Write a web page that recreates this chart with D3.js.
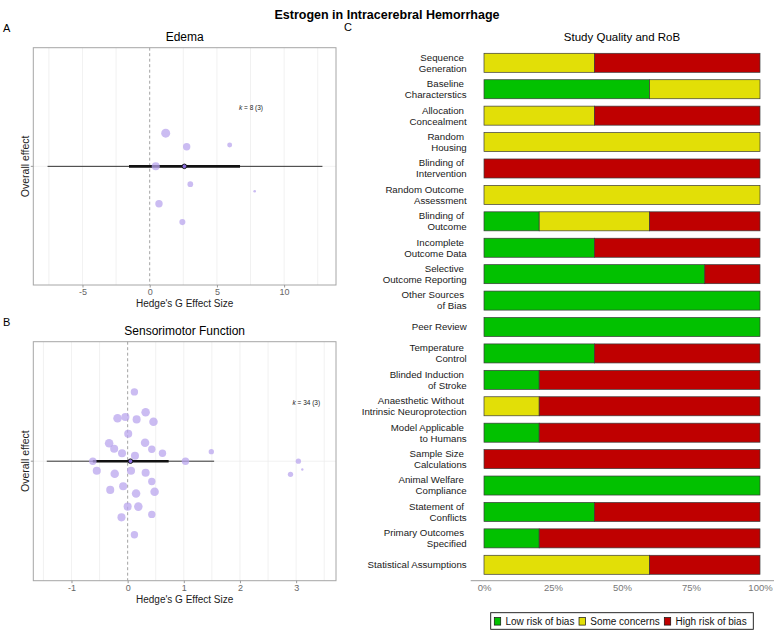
<!DOCTYPE html>
<html>
<head>
<meta charset="utf-8">
<script src="https://cdn.jsdelivr.net/npm/d3@7"></script>
<style>
  body { margin: 0; background: #fff; }
  text { font-family: "Liberation Sans", Arial, sans-serif; }
</style>
</head>
<body>
<script>
'use strict';

// ---- panel A: edema ----
var edemaEffect = [1.19, 2.75, 5.95, 0.45, 3.02, 7.81, 0.69, 2.43];
var edemaWeight = [20, 13.5, 6, 16, 8, 1.7, 13.5, 9];
var edemaJitter = [0.28, 0.165, 0.18, 0.0, -0.15, -0.21, -0.315, -0.47];
// estimate, ci low, ci high, pi low, pi high
var edemaSummary = [2.58, -1.54, 6.72, -7.6, 12.85];
var edemaTicks = [-5, 0, 5, 10];
var edemaGrid = [-7.5, -5, -2.5, 2.5, 5, 7.5, 10, 12.5];
var edemaLimits = [-8.66, 13.86];

// ---- panel B: sensorimotor ----
var sensEffect = [0.12, 0.32, -0.18, -0.04, 0.16, 0.46, 0.01, -0.33, 0.31, -0.24,
                  0.43, -0.10, 0.62, 0.13, 1.49, -0.62, 1.03, 3.04, -0.55, -0.23,
                  0.06, 0.32, 2.90, 3.11, 0.43, -0.08, -0.31, 0.15, 0.48, 0.0,
                  0.19, -0.11, 0.43, 0.12];
var sensWeight = [13.5, 18, 18, 16, 16, 18, 16, 18, 18, 16,
                  13.5, 16, 13.5, 16, 7, 13.5, 13.5, 7, 16, 18,
                  16, 16, 7, 1.4, 13.5, 16, 16, 18, 18, 16,
                  18, 16, 13.5, 13.5];
var sensJitter = [0.58, 0.41, 0.36, 0.37, 0.35, 0.33, 0.23, 0.15, 0.155, 0.105,
                  0.10, 0.066, 0.066, 0.046, 0.08, 0.0, 0.0, 0.0, -0.08, -0.105,
                  -0.08, -0.096, -0.11, -0.07, -0.17, -0.21, -0.24, -0.27, -0.255, -0.38,
                  -0.38, -0.47, -0.445, -0.615];
var sensSummary = [0.05, -0.62, 0.73, -1.44, 1.54];
var sensTicks = [-1, 0, 1, 2, 3];
var sensGrid = [-1.5, -1, -0.5, 0.5, 1, 1.5, 2, 2.5, 3, 3.5];
var sensLimits = [-1.68, 3.71];

// ---- panel C: risk of bias (% of studies) ----
var robDomains = ['Sequence \nGeneration', 'Baseline \nCharacterstics', 'Allocation \nConcealment',
  'Random \nHousing', 'Blinding of \nIntervention', 'Random Outcome \nAssessment',
  'Blinding of \nOutcome', 'Incomplete \nOutcome Data', 'Selective \nOutcome Reporting',
  'Other Sources \nof Bias', 'Peer Review', 'Temperature \nControl', 'Blinded Induction \nof Stroke',
  'Anaesthetic Without \nIntrinsic Neuroprotection', 'Model Applicable \nto Humans',
  'Sample Size \nCalculations', 'Animal Welfare \nCompliance', 'Statement of \nConflicts',
  'Primary Outcomes \nSpecified', 'Statistical Assumptions'];
var robLow  = [0, 60, 0, 0, 0, 0, 20, 40, 80, 100, 100, 40, 20, 0, 20, 0, 100, 40, 20, 0];
var robSome = [40, 40, 40, 100, 0, 100, 40, 0, 0, 0, 0, 0, 0, 20, 0, 0, 0, 0, 0, 60];
var robHigh = [60, 0, 60, 0, 100, 0, 40, 60, 20, 0, 0, 60, 80, 80, 80, 100, 0, 60, 80, 40];
var robLevels = ['Low risk of bias', 'Some concerns', 'High risk of bias'];
var robColors = ['#02C100', '#E2DF07', '#BF0000'];
var robTicks = [0, 0.25, 0.5, 0.75, 1];

var svg = d3.select('body').append('svg')
    .attr('width', 774)
    .attr('height', 630);

svg.append('text')
    .attr('x', 387).attr('y', 19)
    .attr('text-anchor', 'middle')
    .attr('font-size', 12.5).attr('font-weight', 'bold')
    .text('Estrogen in Intracerebral Hemorrhage');

function drawForest(o) {
  var g = svg.append('g');
  var x = d3.scaleLinear().domain(o.limits).range([o.left, o.right]);
  var y = d3.scaleLinear().domain([-1, 1]).range([o.bottom, o.top]);
  var r = d3.scaleSqrt().domain([0, 20]).range([0, 4.5]);
  var yc = y(0);

  g.append('text')
      .attr('x', 3).attr('y', o.top - 16)
      .attr('font-size', 11).text(o.letter);
  g.append('text')
      .attr('x', (o.left + o.right) / 2).attr('y', o.top - 7)
      .attr('text-anchor', 'middle').attr('font-size', 12)
      .text(o.title);

  // grid lines
  g.selectAll('.vgrid').data(o.grid).enter().append('line')
      .attr('x1', x).attr('x2', x)
      .attr('y1', o.top).attr('y2', o.bottom)
      .attr('stroke', '#ebebeb').attr('stroke-width', 0.7);
  g.append('line')
      .attr('x1', o.left).attr('x2', o.right)
      .attr('y1', yc).attr('y2', yc)
      .attr('stroke', '#ebebeb').attr('stroke-width', 0.7);
  g.append('line')
      .attr('x1', x(0)).attr('x2', x(0))
      .attr('y1', o.top).attr('y2', o.bottom)
      .attr('stroke', '#999').attr('stroke-width', 0.9)
      .attr('stroke-dasharray', '3,2.5');

  // prediction interval, confidence interval
  g.append('line')
      .attr('x1', x(o.summary[3])).attr('x2', x(o.summary[4]))
      .attr('y1', yc).attr('y2', yc)
      .attr('stroke', '#333').attr('stroke-width', 1);
  g.append('line')
      .attr('x1', x(o.summary[1])).attr('x2', x(o.summary[2]))
      .attr('y1', yc).attr('y2', yc)
      .attr('stroke', '#111').attr('stroke-width', 2.6);

  g.selectAll('.study').data(o.effects).enter().append('circle')
      .attr('cx', function(d) { return x(d); })
      .attr('cy', function(d, i) { return y(o.jitter[i]); })
      .attr('r', function(d, i) { return r(o.weights[i]); })
      .attr('fill', '#b9a5ee')
      .attr('fill-opacity', 0.75);

  g.append('circle')
      .attr('cx', x(o.summary[0])).attr('cy', yc).attr('r', 2.3)
      .attr('fill', '#8b6fe0').attr('stroke', '#111').attr('stroke-width', 0.9);

  var kText = g.append('text')
      .attr('x', o.kx).attr('y', o.ky)
      .attr('font-size', 6.5).attr('fill', '#222');
  kText.append('tspan').attr('font-style', 'italic').text('k');
  kText.append('tspan').text(' = ' + o.k);

  g.append('rect')
      .attr('x', o.left).attr('y', o.top)
      .attr('width', o.right - o.left).attr('height', o.bottom - o.top)
      .attr('fill', 'none').attr('stroke', '#a6a6a6').attr('stroke-width', 1);

  var ax = g.append('g')
      .attr('transform', 'translate(0,' + o.bottom + ')')
      .call(d3.axisBottom(x).tickValues(o.ticks).tickSize(2.5).tickPadding(1.5)
        .tickFormat(function(d) { return d < 0 ? '-' + Math.abs(d) : d; }));
  ax.select('.domain').remove();
  ax.selectAll('line').attr('stroke', '#999');
  ax.selectAll('text').attr('fill', '#666').attr('font-size', 9)
      .attr('font-family', '"Liberation Sans", Arial, sans-serif');

  // single y tick
  g.append('line')
      .attr('x1', o.left - 2.5).attr('x2', o.left)
      .attr('y1', yc).attr('y2', yc).attr('stroke', '#999');
  g.append('text')
      .attr('transform', 'translate(28.5,' + yc + ') rotate(-90)')
      .attr('text-anchor', 'middle').attr('font-size', 10.5).attr('fill', '#222')
      .text('Overall effect');

  g.append('text')
      .attr('x', (o.left + o.right) / 2).attr('y', o.bottom + 22)
      .attr('text-anchor', 'middle').attr('font-size', 10).attr('fill', '#222')
      .text("Hedge's G Effect Size");
}

drawForest({
  letter: 'A', title: 'Edema',
  left: 33.3, right: 336, top: 47.7, bottom: 285,
  limits: edemaLimits, ticks: edemaTicks, grid: edemaGrid,
  effects: edemaEffect, weights: edemaWeight, jitter: edemaJitter,
  summary: edemaSummary, k: '8 (3)', kx: 239, ky: 109.5
});

drawForest({
  letter: 'B', title: 'Sensorimotor Function',
  left: 33.3, right: 336, top: 341.7, bottom: 580.7,
  limits: sensLimits, ticks: sensTicks, grid: sensGrid,
  effects: sensEffect, weights: sensWeight, jitter: sensJitter,
  summary: sensSummary, k: '34 (3)', kx: 292.5, ky: 404.5
});

// ---- panel C ----
var gc = svg.append('g');
gc.append('text').attr('x', 344).attr('y', 31).attr('font-size', 11).text('C');
gc.append('text')
    .attr('x', 622).attr('y', 41)
    .attr('text-anchor', 'middle').attr('font-size', 11.5)
    .text('Study Quality and RoB');

var xr = d3.scaleLinear().domain([0, 1]).range([484, 760]);
var yr = d3.scaleBand().domain(robDomains).range([45.9, 581.7]).padding(0.28);

var rows = robDomains.map(function(name, i) {
  return {name: name, Low: robLow[i] / 100, Some: robSome[i] / 100, High: robHigh[i] / 100};
});
var stack = d3.stack().keys(['Low', 'Some', 'High'])(rows);

gc.selectAll('.layer').data(stack).enter().append('g')
    .attr('fill', function(d, i) { return robColors[i]; })
  .selectAll('rect')
    .data(function(d) { return d.filter(function(s) { return s[1] - s[0] > 0; }); })
  .enter().append('rect')
    .attr('x', function(d) { return xr(d[0]); })
    .attr('width', function(d) { return xr(d[1]) - xr(d[0]); })
    .attr('y', function(d) { return yr(d.data.name); })
    .attr('height', yr.bandwidth())
    .attr('stroke', '#3a3a3a').attr('stroke-width', 0.7);

// two-line labels, right aligned
gc.selectAll('.rob-label').data(robDomains).enter().append('text')
    .attr('text-anchor', 'end')
    .attr('font-size', 9.7).attr('fill', '#1a1a1a')
    .style('white-space', 'pre')
    .each(function(d) {
      var lines = d.split('\n');
      var cy = yr(d) + yr.bandwidth() / 2;
      var t = d3.select(this);
      lines.forEach(function(line, j) {
        t.append('tspan')
            .attr('x', 466.7)
            .attr('y', cy + 3.4 + (j - (lines.length - 1) / 2) * 11)
            .text(line);
      });
    });

var axc = gc.append('g')
    .attr('transform', 'translate(0,580.7)')
    .call(d3.axisBottom(xr).tickValues(robTicks).tickSize(0).tickPadding(4)
      .tickFormat(d3.format('.0%')));
axc.select('.domain').attr('d', 'M470.7,0H774').attr('stroke', '#9a9a9a');
axc.selectAll('text').attr('fill', '#777').attr('font-size', 9.5)
    .attr('font-family', '"Liberation Sans", Arial, sans-serif');

// legend
var lg = gc.append('g');
lg.append('rect')
    .attr('x', 490.7).attr('y', 612.7).attr('width', 262.6).attr('height', 16.6)
    .attr('fill', '#fff').attr('stroke', '#111').attr('stroke-width', 0.9);
var lx = 494.3;
robLevels.forEach(function(name, i) {
  lg.append('rect')
      .attr('x', lx).attr('y', 617.5).attr('width', 6.4).attr('height', 7.6)
      .attr('fill', robColors[i]).attr('stroke', '#111').attr('stroke-width', 0.7);
  var t = lg.append('text')
      .attr('x', lx + 11.2).attr('y', 624.6)
      .attr('font-size', 10).attr('fill', '#111')
      .text(name);
  lx = lx + 11.2 + t.node().getComputedTextLength() + 4.6;
});
</script>
</body>
</html>
